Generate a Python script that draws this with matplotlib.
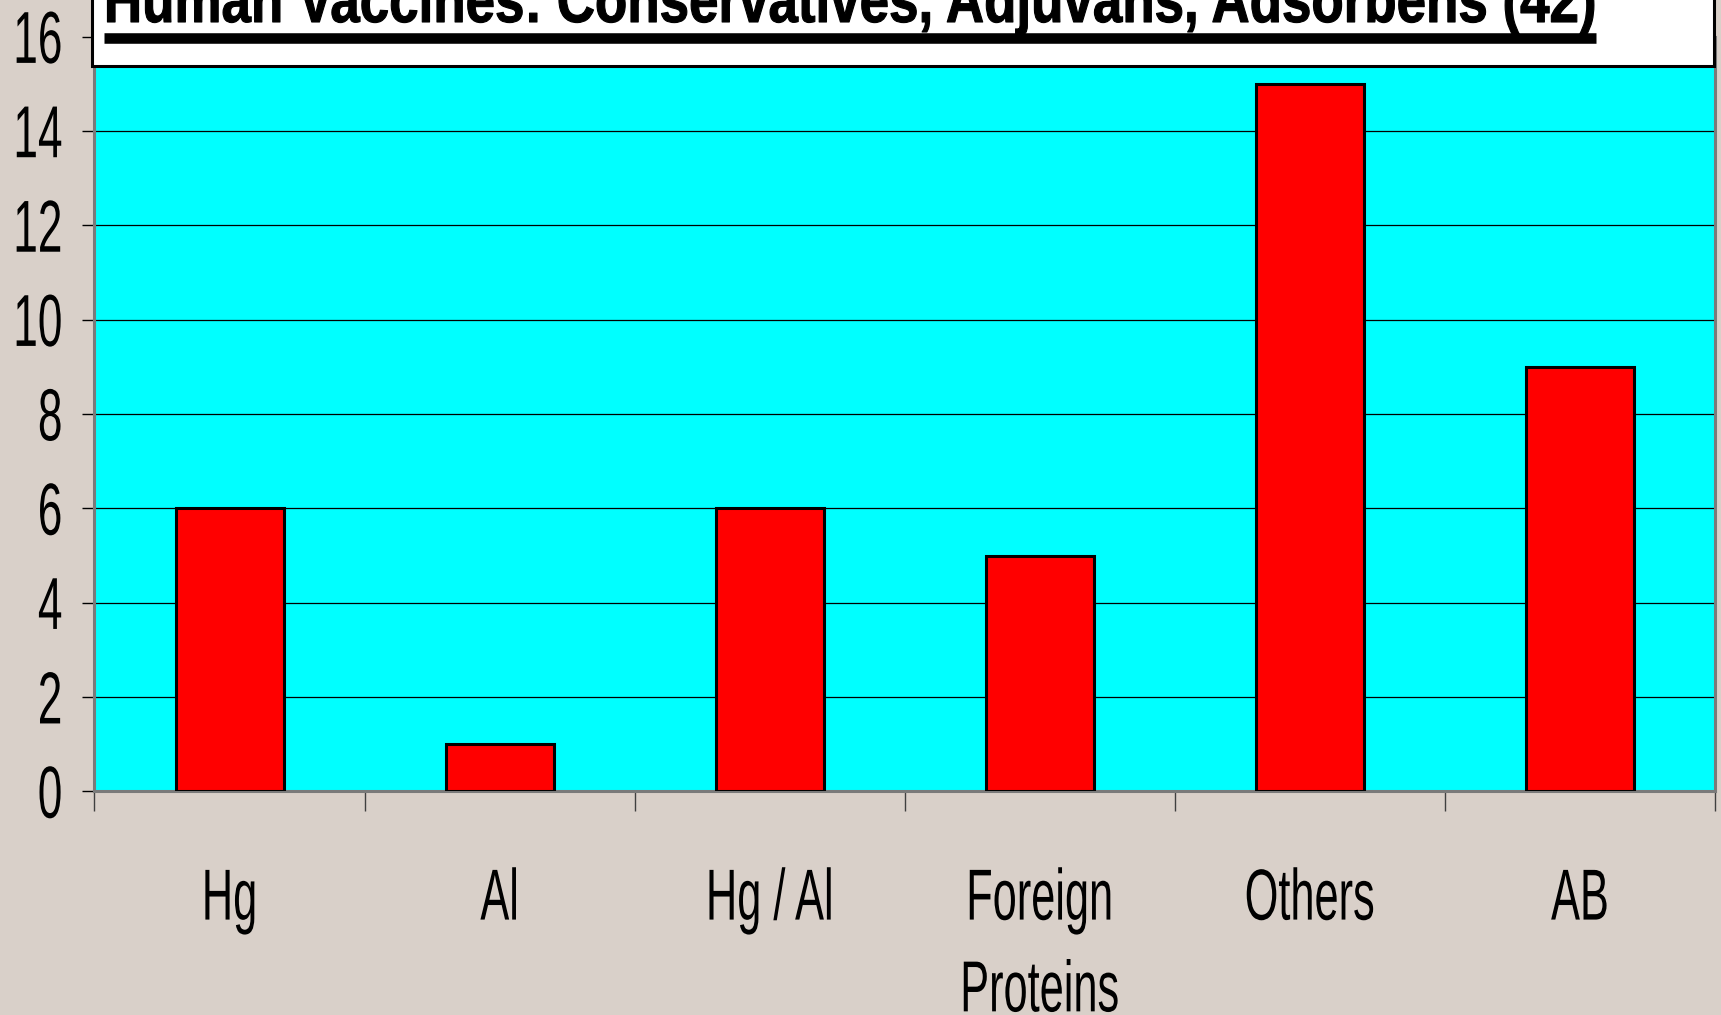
import matplotlib
matplotlib.use("Agg")
import matplotlib.pyplot as plt
from matplotlib import patheffects
from matplotlib.patches import Rectangle
from matplotlib.lines import Line2D
from matplotlib.transforms import Affine2D

categories = ['Hg', 'Al', 'Hg / Al', 'Foreign\nProteins', 'Others', 'AB']
counts = [6, 1, 6, 5, 15, 9]
yticks = [0, 2, 4, 6, 8, 10, 12, 14, 16]
title = 'Human Vaccines: Conservatives, Adjuvans, Adsorbens (42)'

BG = '#d9d0c9'
FONT = 'Liberation Sans'


class Stretch(patheffects.AbstractPathEffect):
    """Scale glyph outlines around an anchor to get a tall, condensed face."""

    def __init__(self, sx=1.0, sy=1.0, anchor='left', vanchor='baseline', stroke=0.0):
        super().__init__()
        self.sx, self.sy = sx, sy
        self.anchor, self.vanchor = anchor, vanchor
        self.stroke = stroke

    def draw_path(self, renderer, gc, tpath, affine, rgbFace=None):
        ext = tpath.get_extents()
        x0 = {'left': ext.x0, 'center': 0.5 * (ext.x0 + ext.x1), 'right': ext.x1}[self.anchor]
        y0 = 0.0 if self.vanchor == 'baseline' else 0.5 * (ext.y0 + ext.y1)
        tr = Affine2D().translate(-x0, -y0).scale(self.sx, self.sy).translate(x0, y0)
        gc0 = renderer.new_gc()
        gc0.copy_properties(gc)
        if self.stroke:
            gc0.set_linewidth(self.stroke)
            gc0.set_foreground(rgbFace)
        renderer.draw_path(gc0, tpath, tr + affine, rgbFace)
        gc0.restore()


fig = plt.figure(figsize=(17.21, 10.15), dpi=100, facecolor=BG)
ax = fig.add_axes([0.0549, 0.2202, 0.9416, 0.7436])
ax.set_facecolor('#00ffff')

x = list(range(len(categories)))
ax.bar(x, counts, width=0.4, color='#ff0000', edgecolor='black', linewidth=2.2, zorder=3)

ax.set_xlim(-0.5, len(categories) - 0.5)
ax.set_ylim(0, 16)

# horizontal gridlines
ax.set_yticks(yticks)
ax.yaxis.grid(True, color='black', linewidth=0.9)
ax.set_axisbelow(True)

for side in ['left', 'bottom', 'right']:
    ax.spines[side].set_color('#7a7a7a')
    ax.spines[side].set_linewidth(2.2)
ax.spines['top'].set_visible(False)

# y axis labels: tall narrow digits
ax.tick_params(axis='y', direction='out', length=8.6, width=1, color='black', pad=14.5)
ax.set_yticklabels([str(v) for v in yticks], fontsize=31.8, family=FONT)
for lab in ax.get_yticklabels():
    lab.set_path_effects([Stretch(1.0, 1.667, anchor='right', vanchor='middle')])

# category labels centred under the bars, boundary ticks in between
ax.set_xticks(x)
ax.set_xticklabels(categories, fontsize=31.2, family=FONT, linespacing=2.67)
ax.tick_params(axis='x', which='major', length=0, pad=69.9)
for lab in ax.get_xticklabels():
    lab.set_path_effects([Stretch(1.0, 1.667, anchor='center')])
ax.set_xticks([i - 0.5 for i in range(len(categories) + 1)], minor=True)
ax.tick_params(axis='x', which='minor', direction='out', length=14.4, width=1, color='#404040')

# title panel overlapping the top of the plot
W, H = 1721.0, 1015.0
box = Rectangle((91.5 / W, 1 - 65.5 / H), (1713.5 - 91.5) / W, 0.1,
                transform=fig.transFigure, facecolor='white', edgecolor='black',
                linewidth=2.2, zorder=5)
fig.add_artist(box)
head = fig.text(104 / W, 1 - 22 / H, title, fontsize=37.2, fontweight='bold', family=FONT,
                ha='left', va='baseline', zorder=6)
head.set_path_effects([Stretch(1.024, 1.25, anchor='left', stroke=0.8)])
fig.add_artist(Line2D([104 / W, 1596 / W], [1 - 38 / H, 1 - 38 / H], transform=fig.transFigure,
                      color='black', linewidth=7.6, solid_capstyle='butt', zorder=6))

fig.savefig('out.png', dpi=100, facecolor=BG)
